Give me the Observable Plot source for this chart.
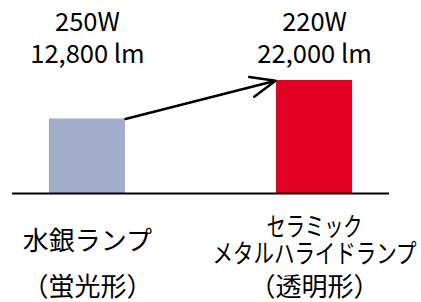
<!DOCTYPE html>
<html>
<head>
<meta charset="utf-8">
<script src="https://cdn.jsdelivr.net/npm/d3@7"></script>
<script src="https://cdn.jsdelivr.net/npm/@observablehq/plot@0.6"></script>
<style>
  html, body { margin: 0; padding: 0; background: #fff; }
  #chart svg { display: block; }
</style>
</head>
<body>
<div id="chart"></div>
<script>
// Data
const lamps = ["水銀ランプ（蛍光形）", "セラミックメタルハライドランプ（透明形）"];
const nameLines = [["水銀ランプ"], ["セラミック", "メタルハライドランプ"]];
const shapes = ["（蛍光形）", "（透明形）"];
const watts = ["250W", "220W"];
const lumens = ["12,800 lm", "22,000 lm"];
const barHeights = [66, 100];   // relative bar heights as drawn
const barColors = ["#a2aecb", "#e00022"];

const data = lamps.map((lamp, i) => ({
  i, lamp,
  value: barHeights[i],
  top: watts[i] + "\n" + lumens[i],
  name: nameLines[i].join("\n"),
  shape: shapes[i],
  color: barColors[i]
}));

const half = 0.1674; // half bar width in x units
const arrowData = [{
  x1: data[0].i + half, y1: data[0].value,
  x2: data[1].i - half, y2: data[1].value
}];

const font = "'Noto Sans CJK JP', 'Noto Sans', sans-serif";

const chart = Plot.plot({
  width: 421,
  height: 302,
  marginTop: 80,
  marginBottom: 109,
  marginLeft: 12,
  marginRight: 32,
  x: {type: "linear", domain: [-0.330, 1.330], axis: null},
  y: {domain: [0, 100], axis: null},
  style: {fontFamily: font, background: "#fff", color: "#000"},
  marks: [
    Plot.rect(data, {x1: d => d.i - half, x2: d => d.i + half, y1: d => 0, y2: "value", fill: "color"}),
    Plot.ruleY([0], {stroke: "#000", strokeWidth: 2}),
    Plot.arrow(arrowData, {x1: "x1", y1: "y1", x2: "x2", y2: "y2", stroke: "#000", strokeWidth: 2.5, headLength: 16, headAngle: 45, insetEnd: 1}),
    Plot.text(data, {x: "i", text: "top", frameAnchor: "top", lineAnchor: "middle", dy: -43.5, fontSize: 25.5, lineHeight: 1.255, fill: "#000"}),
    Plot.text(data, {x: "i", text: "name", frameAnchor: "bottom", lineAnchor: "middle", dy: 47.5, fontSize: 26, lineHeight: 1.02, fill: "#000"}),
    Plot.text(data, {x: "i", text: "shape", frameAnchor: "bottom", lineAnchor: "middle", dy: 94, fontSize: 26, fill: "#000"})
  ]
});

document.getElementById("chart").appendChild(chart);

// horizontally condensed lines on the right label, as in the original
const condensed = {"セラミック": 96, "メタルハライドランプ": 204};
d3.select(chart).selectAll("text, tspan").each(function() {
  const t = this.textContent;
  if (condensed[t] && this.childElementCount === 0) {
    d3.select(this).attr("textLength", condensed[t]).attr("lengthAdjust", "spacingAndGlyphs");
  }
});
</script>
</body>
</html>
